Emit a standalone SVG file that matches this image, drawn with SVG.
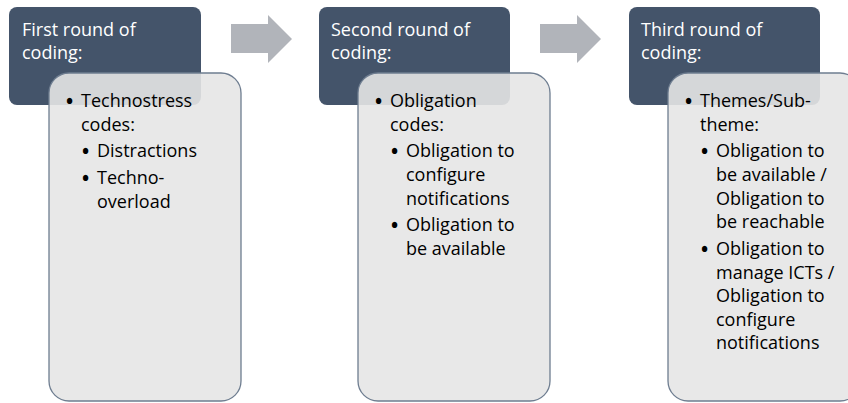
<svg xmlns="http://www.w3.org/2000/svg" width="848" height="403" viewBox="0 0 848 403">
  <style>
    .hdr { fill: #44546a; }
    .card { fill: #e6e6e6; fill-opacity: 0.9; stroke: #6e7d90; stroke-width: 1.3; }
    .arrow { fill: #b1b4ba; }
    text { font-family: "Open Sans", "Liberation Sans", sans-serif; font-size: 18px; }
    .title { fill: #ffffff; }
    .body { fill: #000000; }
    .b { font-size: 19px; font-weight: bold; }
  </style>
  <rect width="848" height="403" fill="#ffffff"/>
  <g id="connectors">
    <polygon class="arrow" points="231,24 268,24 268,15 292,39 268,63 268,53 231,53"/>
    <polygon class="arrow" points="540,24 577,24 577,15 601,39 577,63 577,53 540,53"/>
  </g>
  <g id="round1">
    <rect class="hdr" x="9" y="7" width="192" height="98" rx="8"/>
    <text class="title" x="22" y="36">First round of</text>
    <text class="title" x="22" y="59">coding:</text>
    <rect class="card" x="49" y="73" width="192" height="328" rx="20"/>
    <g class="body">
      <text class="b" x="66" y="108">•</text>
      <text x="81" y="107">Technostress</text>
      <text x="81" y="130.6">codes:</text>
      <text class="b" x="82" y="158.4">•</text>
      <text x="97" y="157.4">Distractions</text>
      <text class="b" x="82" y="185.2">•</text>
      <text x="97" y="184.2">Techno-</text>
      <text x="97" y="207.8">overload</text>
    </g>
  </g>
  <g id="round2">
    <rect class="hdr" x="319" y="7" width="191" height="98" rx="8"/>
    <text class="title" x="331" y="36">Second round of</text>
    <text class="title" x="331" y="59">coding:</text>
    <rect class="card" x="358" y="73" width="192" height="328" rx="20"/>
    <g class="body">
      <text class="b" x="375" y="108">•</text>
      <text x="390" y="107">Obligation</text>
      <text x="390" y="130.6">codes:</text>
      <text class="b" x="391" y="158.4">•</text>
      <text x="406" y="157.4">Obligation to</text>
      <text x="406" y="181">configure</text>
      <text x="406" y="204.6">notifications</text>
      <text class="b" x="391" y="232.4">•</text>
      <text x="406" y="231.4">Obligation to</text>
      <text x="406" y="255">be available</text>
    </g>
  </g>
  <g id="round3">
    <rect class="hdr" x="629" y="7" width="191" height="98" rx="8"/>
    <text class="title" x="641" y="36">Third round of</text>
    <text class="title" x="641" y="59">coding:</text>
    <rect class="card" x="668" y="73" width="192" height="328" rx="20"/>
    <g class="body">
      <text class="b" x="685" y="108">•</text>
      <text x="700" y="107">Themes/Sub-</text>
      <text x="700" y="130.6">theme:</text>
      <text class="b" x="701" y="158.4">•</text>
      <text x="716" y="157.4">Obligation to</text>
      <text x="716" y="181">be available /</text>
      <text x="716" y="204.6">Obligation to</text>
      <text x="716" y="228.2">be reachable</text>
      <text class="b" x="701" y="256">•</text>
      <text x="716" y="255">Obligation to</text>
      <text x="716" y="278.6">manage ICTs /</text>
      <text x="716" y="302.2">Obligation to</text>
      <text x="716" y="325.8">configure</text>
      <text x="716" y="349.4">notifications</text>
    </g>
  </g>
</svg>
